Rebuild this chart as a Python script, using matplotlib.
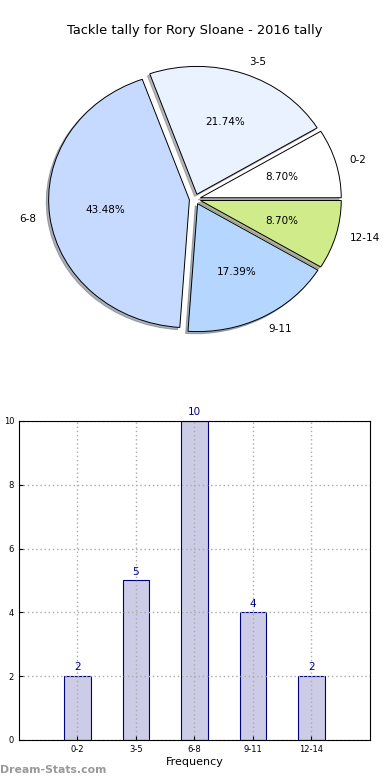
import matplotlib
matplotlib.use("Agg")
import matplotlib.pyplot as plt

# data
labels = ["0-2", "3-5", "6-8", "9-11", "12-14"]
counts = [2, 5, 10, 4, 2]
pie_colors = ["#ffffff", "#eaf2ff", "#c6d9ff", "#b4d6ff", "#d0eb8a"]

fig = plt.figure(figsize=(3.9, 7.8), dpi=100)

# pie
ax1 = fig.add_axes([0.0487, 0.5397, 0.9026, 0.410])
wedges, texts, autotexts = ax1.pie(counts, labels=labels, colors=pie_colors,
                                   explode=[0.04] * len(counts),
                                   shadow={"ox": -0.012, "oy": -0.012, "shade": 0.55},
                                   autopct="%.2f%%", startangle=0,
                                   wedgeprops=dict(edgecolor="black", linewidth=0.7),
                                   textprops=dict(fontsize=7.5))
ax1.set_aspect("auto")
ax1.set_title("Tackle tally for Rory Sloane - 2016 tally", fontsize=9.4, pad=4)

# bars
ax2 = fig.add_axes([0.0487, 0.0513, 0.900, 0.409])
x = list(range(len(labels)))
ax2.bar(x, counts, width=0.45, color="#ccccе6".replace("е", "e"), edgecolor="#000080",
        linewidth=0.8, zorder=1)
for xi, c in zip(x, counts):
    ax2.text(xi, c + 0.12, str(c), ha="center", va="bottom", color="#000080", fontsize=7.5)
ax2.set_xlim(-1, 5)
ax2.set_ylim(0, 10)
ax2.set_xticks(x)
ax2.set_xticklabels(labels)
ax2.set_yticks([0, 2, 4, 6, 8, 10])
ax2.tick_params(labelsize=6, direction="in", length=3)
ax2.grid(True, linestyle=(0, (1, 2)), color="#aaaaaa", linewidth=1.0, zorder=3)
ax2.set_axisbelow(False)
for sp in ax2.spines.values():
    sp.set_zorder(5)
ax2.set_xlabel("Frequency", fontsize=8, labelpad=2)
ax2.set_ylabel("Number of Games", fontsize=6)
ax2.yaxis.set_label_coords(-0.062, 0.5)

fig.text(0.0, 0.006, "Dream-Stats.com", color="#999999", fontsize=7.8,
         fontweight="bold", ha="left", va="bottom")

fig.savefig("out.png", dpi=100)
